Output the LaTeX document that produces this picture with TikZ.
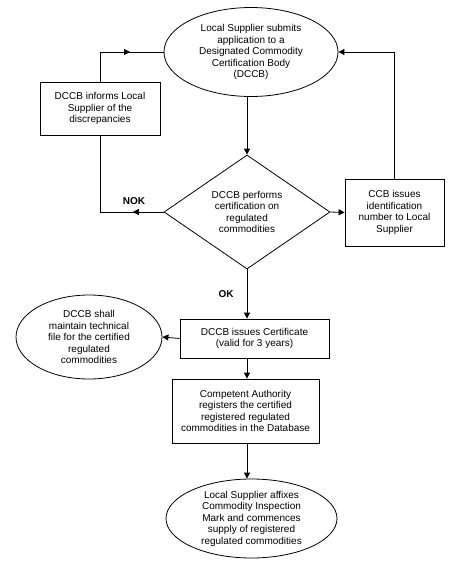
\documentclass[tikz,border=0pt]{standalone}
\usepackage{fontspec}
\setmainfont{Liberation Sans}
\usetikzlibrary{calc,shapes.geometric,arrows.meta,decorations.markings}
\tikzset{
	every node/.style={font=\fontsize{10}{11.5}\selectfont, align=center, inner sep=0pt},
	box/.style={draw, rectangle, line width=0.8pt},
	oval/.style={draw, ellipse, line width=0.8pt},
	decision/.style={draw, diamond, line width=0.8pt},
	arr/.style={line width=0.8pt, -{Triangle[length=6pt,width=6pt]}},
	line/.style={line width=0.8pt},
	midarr/.style={line width=0.8pt, postaction={decorate},
		decoration={markings, mark=at position #1 with {\arrow{Triangle[length=6pt,width=6pt]}}}},
	tag/.style={font=\fontsize{10}{12}\selectfont\bfseries}
}

\begin{document}
\begin{tikzpicture}[x=1pt, y=-1pt]
			%%%%% START %%%%%
			\useasboundingbox (0, 0) rectangle (455, 574);
			
			\node[oval, minimum width=174, minimum height=89] (submit) at (251, 52) {Local Supplier submits\\application to a\\Designated Commodity\\Certification Body\\(DCCB)};
			
			\node[box, minimum width=120, minimum height=53] (inform) at (100, 108.5) {DCCB informs Local\\Supplier of the\\discrepancies};
			
			\node[decision, minimum width=166, minimum height=114] (certify) at (247, 212) {DCCB performs\\certification on\\regulated\\commodities};
			
			\node[box, minimum width=99, minimum height=67] (idnum) at (394.5, 212.5) {CCB issues\\identification\\number to Local\\Supplier};
			
			\node[box, minimum width=149, minimum height=39] (issue) at (254.5, 338.5) {DCCB issues Certificate\\(valid for 3 years)};
			
			\node[oval, minimum width=146, minimum height=84] (techfile) at (89, 337) {DCCB shall\\maintain technical\\file for the certified\\regulated\\commodities};
			
			\node[box, minimum width=147, minimum height=64] (register) at (245.5, 411) {Competent Authority\\registers the certified\\registered regulated\\commodities in the Database};
			
			\node[oval, minimum width=171, minimum height=79] (supply) at (251.5, 518.5) {Local Supplier affixes\\Commodity Inspection\\Mark and commences\\supply of registered\\regulated commodities};
			
			\node[tag] (nok) at (134, 201) {NOK};
			\node[tag] (ok) at (226, 294) {OK};
			
			% main line
			\draw[arr] (certify.north |- submit.south) -- (certify.north);
			\draw[arr] (certify.east) -- (idnum.west);
			\draw[arr] (idnum.north) |- (submit.east);
			\draw[arr] (certify.south) -- (certify.south |- issue.north);
			\draw[arr] (issue.west) -- (techfile.east);
			\draw[arr] (certify.south |- issue.south) -- (certify.south |- register.north);
			\draw[arr] (certify.south |- register.south) -- (certify.south |- supply.north);
			
			% loop back
			\draw[midarr=0.22] (certify.west) -- (inform.south |- certify.west) -- (inform.south);
			\draw[midarr=0.64] (inform.north) |- (submit.west);
			
			%%%%% END %%%%%
\end{tikzpicture}
\end{document}
